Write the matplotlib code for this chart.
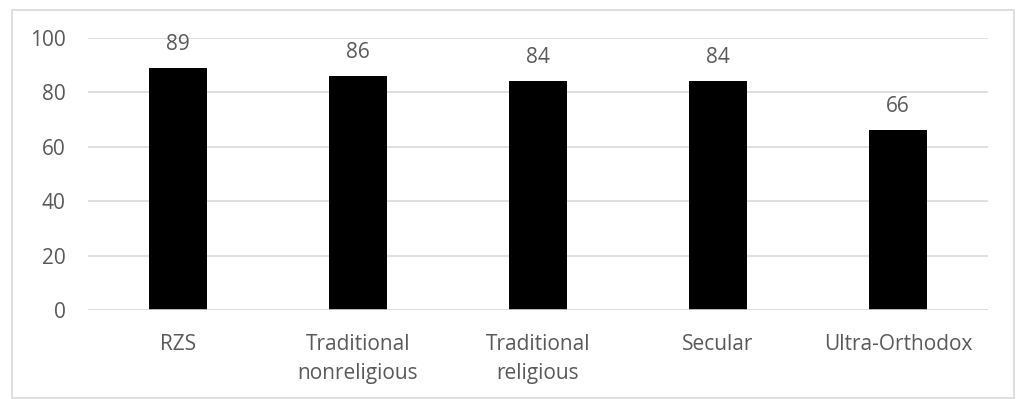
import matplotlib
matplotlib.use("Agg")
import matplotlib.pyplot as plt
from matplotlib.patches import Rectangle

groups = ["RZS", "Traditional\nnonreligious", "Traditional\nreligious", "Secular", "Ultra-Orthodox"]
scores = [89, 86, 84, 84, 66]
yticks = [0, 20, 40, 60, 80, 100]

txt = "#595959"
plt.rcParams["font.family"] = ["Open Sans", "DejaVu Sans"]

fig = plt.figure(figsize=(10.17, 3.99), dpi=100)
ax = fig.add_axes([0.0865, 0.223, 0.885, 0.682])

x = range(len(groups))
ax.bar(x, scores, width=0.317, color="black", zorder=3)
for xi, v in zip(x, scores):
    ax.annotate(str(v), (xi, v), xytext=(0, 17), textcoords="offset points",
                ha="center", va="center", fontsize=15, color=txt)

ax.set_xlim(-0.5, len(groups) - 0.5)
ax.set_ylim(0, 100)
ax.set_yticks(yticks)
ax.set_xticks(list(x))
ax.set_xticklabels(groups, fontsize=15, color=txt, linespacing=1.5)
ax.tick_params(axis="y", labelsize=15, labelcolor=txt, length=0, pad=16)
ax.tick_params(axis="x", length=0, pad=17)
ax.grid(axis="y", color="#d9d9d9", linewidth=1.2, zorder=0)
for s in ax.spines.values():
    s.set_visible(False)
ax.axhline(0, color="#d9d9d9", linewidth=1.2, zorder=4)

# light frame round the whole chart
fig.patches.append(Rectangle((0.012, 0.002), 0.985, 0.973, transform=fig.transFigure,
                             fill=False, edgecolor="#d9d9d9", linewidth=1.2))

fig.savefig("out.png", dpi=100)
